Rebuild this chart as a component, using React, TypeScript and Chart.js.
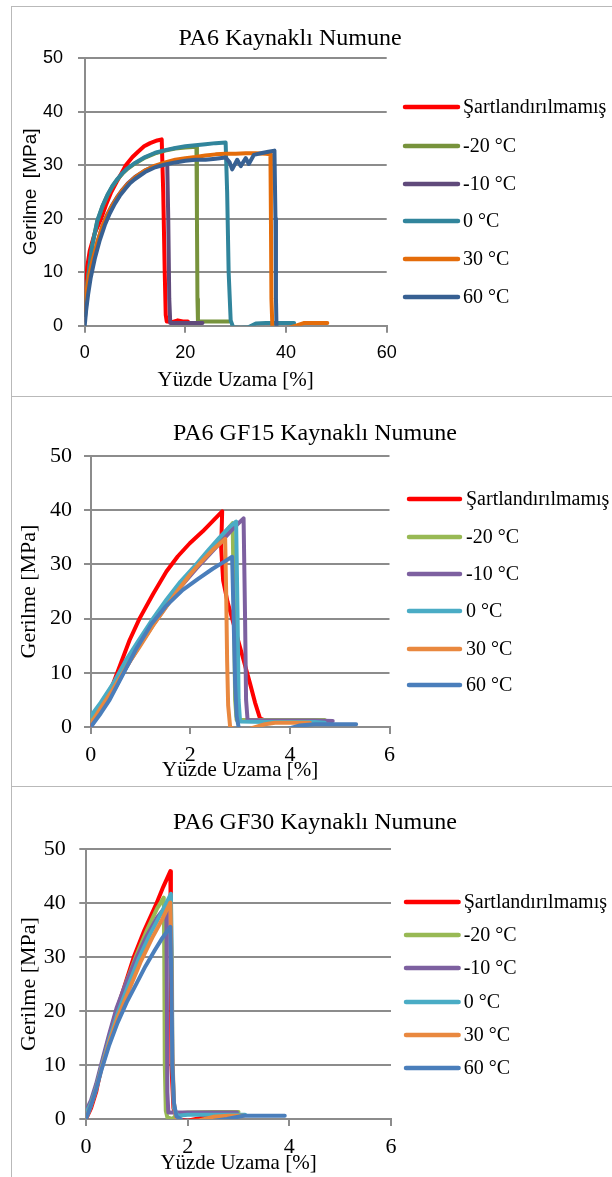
import React, { useEffect, useRef } from "react";
import { Chart, registerables } from "chart.js";
Chart.register(...registerables);

// ---------- labels ----------
const SERIES_LABELS = ["Şartlandırılmamış", "-20 °C", "-10 °C", "0 °C", "30 °C", "60 °C"];
const TITLES = ["PA6 Kaynaklı Numune", "PA6 GF15 Kaynaklı Numune", "PA6 GF30 Kaynaklı Numune"];
const X_TITLE = "Yüzde Uzama [%]";
const Y_TITLES = ["Gerilme  [MPa]", "Gerilme [MPa]", "Gerilme [MPa]"];
const Y_TICKS = [0, 10, 20, 30, 40, 50];
const X_TICKS_P1 = [0, 20, 40, 60];
const X_TICKS_P23 = [0, 2, 4, 6];

// ---------- Panel 1: PA6 ----------
const p1RedX = [0, 0.2, 0.5, 1, 2, 3.3, 4.2, 5.2, 6.3, 7.2, 8.2, 9.5, 10.6, 11.8, 13, 14.4, 15.3, 15.6, 15.9, 16.1, 16.3, 17.5, 18.5, 19.5, 20.5];
const p1RedY = [2, 7, 11, 14, 17.3, 20.1, 22.5, 24.8, 26.8, 28.3, 30, 31.5, 32.5, 33.5, 34.1, 34.6, 34.8, 25, 10, 2, 0.8, 0.7, 1, 0.8, 0.8];
const p1GreenX = [0, 0.3, 0.8, 1.5, 2.5, 3.5, 4.5, 5.5, 6.5, 7.5, 8.5, 10, 12, 14, 16, 18, 20, 22.2, 22.3, 22.4, 22.5, 24, 26, 28.7];
const p1GreenY = [2, 6, 10, 15, 19.5, 22.2, 24.3, 26, 27.3, 28.4, 29.3, 30.3, 31.4, 32.2, 32.7, 33.1, 33.3, 33.4, 20, 5, 0.8, 0.8, 0.8, 0.8];
const p1PurpleX = [0, 0.3, 0.8, 1.5, 2.5, 3.5, 4.5, 5.5, 6.5, 7.5, 8.5, 10, 12, 14, 16.4, 16.6, 16.8, 17, 19, 21, 23.4];
const p1PurpleY = [1, 4, 8, 11.5, 15.5, 18.5, 20.8, 22.6, 24.1, 25.4, 26.5, 27.8, 29, 29.8, 30.3, 20, 5, 0.5, 0.5, 0.5, 0.5];
const p1TealX = [0, 0.3, 0.8, 1.5, 2.5, 3.5, 4.5, 5.5, 6.5, 7.5, 8.5, 10, 12, 14, 16, 18, 20, 22, 24, 26, 28, 28.3, 28.6, 29, 29.5, 31, 32.5, 34, 36, 38, 40, 41.6];
const p1TealY = [2, 6, 10, 15, 19.6, 22.3, 24.4, 26.1, 27.4, 28.5, 29.4, 30.4, 31.5, 32.3, 32.8, 33.2, 33.5, 33.7, 33.9, 34.1, 34.2, 25, 10, 1, -0.3, -0.4, -0.3, 0.4, 0.5, 0.5, 0.5, 0.5];
const p1OrangeX = [0, 0.3, 0.8, 1.5, 2.5, 3.5, 4.5, 5.5, 6.5, 7.5, 8.5, 10, 12, 14, 16, 18, 20, 22, 24, 26, 28, 30, 32, 34, 36, 36.9, 37, 37.1, 37.3, 38.5, 40.5, 42, 43.5, 46, 48.2];
const p1OrangeY = [3, 6, 9, 12, 15.5, 18.5, 20.7, 22.5, 24, 25.3, 26.4, 27.7, 29, 29.9, 30.5, 31, 31.3, 31.5, 31.8, 32, 32.1, 32.1, 32.2, 32.2, 32.1, 32, 20, 5, -0.5, -0.5, -0.4, 0, 0.5, 0.5, 0.5];
const p1BlueX = [0, 0.3, 0.7, 1.2, 2, 3, 4, 5, 6, 7, 8, 9, 10, 12, 14, 16, 18, 20, 22, 24, 26, 28, 28.8, 29.3, 30.3, 31, 32, 32.6, 33.6, 35, 36.5, 37.7, 37.9, 38, 38.1];
const p1BlueY = [0, 3, 6, 9, 12.5, 16, 18.8, 21, 22.8, 24.3, 25.5, 26.6, 27.4, 28.7, 29.6, 30.1, 30.5, 30.8, 31, 31, 31.2, 31.4, 30.5, 29.2, 31, 29.8, 31.3, 30.2, 31.9, 32.2, 32.5, 32.7, 20, 5, 0];

// ---------- Panel 2: PA6 GF15 ----------
const p2RedX = [0, 0.2, 0.45, 0.78, 0.98, 1.25, 1.52, 1.75, 1.99, 2.25, 2.45, 2.64, 2.62, 2.66, 2.75, 2.9, 3.05, 3.2, 3.3, 3.4, 3.5, 4, 4.5];
const p2RedY = [0, 3.5, 8, 16, 20, 24.5, 28.7, 31.5, 33.9, 36.1, 38, 39.8, 33, 27, 23, 18, 13, 8, 4.5, 1.6, 1.2, 1.2, 1.2];
const p2GreenX = [0, 0.2, 0.45, 0.7, 0.98, 1.25, 1.52, 1.8, 2.12, 2.35, 2.59, 2.75, 2.85, 2.88, 2.9, 2.93, 3.5, 4, 4.7];
const p2GreenY = [1, 4, 7.5, 11.8, 15.8, 19.6, 23.1, 26.5, 29.8, 32.2, 34.8, 36.5, 37.6, 20, 5, 1.3, 1.3, 1.3, 1.3];
const p2PurpleX = [0, 0.2, 0.45, 0.7, 0.98, 1.25, 1.52, 1.8, 2.12, 2.4, 2.7, 2.9, 3.07, 3.1, 3.12, 3.15, 3.5, 4, 4.5, 4.86];
const p2PurpleY = [0, 3, 6.5, 10.8, 15, 18.8, 22.3, 25.8, 29.2, 32, 35, 37, 38.5, 20, 5, 1.3, 1.2, 1.2, 1.2, 1.1];
const p2TealX = [0, 0.2, 0.45, 0.7, 0.98, 1.25, 1.52, 1.8, 2.12, 2.35, 2.59, 2.8, 2.92, 2.95, 2.97, 3.0, 3.5, 4, 4.5, 4.7];
const p2TealY = [2, 4.5, 8, 12.2, 16.2, 20, 23.5, 26.8, 30, 32.5, 35, 37, 37.9, 20, 5, 1, 0.9, 0.9, 0.9, 0.8];
const p2OrangeX = [0, 0.2, 0.45, 0.78, 0.98, 1.25, 1.52, 1.75, 1.99, 2.2, 2.45, 2.6, 2.7, 2.72, 2.74, 2.76, 2.8, 2.9, 3.2, 3.5, 3.7, 4, 4.4];
const p2OrangeY = [0.5, 3.5, 7, 12, 14.8, 18.7, 22.2, 25.2, 28.1, 30.3, 32.7, 33.9, 34.7, 25, 12, 4, 0, -0.5, -0.3, 0.5, 0.8, 0.8, 0.8];
const p2BlueX = [0, 0.2, 0.38, 0.58, 0.92, 1.22, 1.5, 1.85, 2.15, 2.45, 2.7, 2.84, 2.87, 2.9, 2.93, 2.98, 3.5, 3.9, 4.2, 4.5, 5, 5.33];
const p2BlueY = [0, 2.5, 5, 8.5, 14.5, 19, 22.2, 25.3, 27.3, 29.2, 30.6, 31.4, 20, 8, 2, -0.5, -1, -0.5, 0.3, 0.5, 0.5, 0.5];

// ---------- Panel 3: PA6 GF30 ----------
const p3RedX = [0, 0.1, 0.2, 0.31, 0.45, 0.6, 0.77, 0.94, 1.15, 1.39, 1.52, 1.66, 1.67, 1.68, 1.72, 1.8, 2, 2.3, 2.6, 3];
const p3RedY = [0, 2, 5, 10, 15, 20, 25, 30, 35, 40, 43, 45.9, 30, 10, 2, 0, -0.3, 0.3, 0.7, 0.8];
const p3GreenX = [0, 0.1, 0.2, 0.31, 0.45, 0.6, 0.8, 1, 1.2, 1.4, 1.53, 1.54, 1.55, 1.57, 1.6, 1.7, 1.8, 2, 2.5, 3];
const p3GreenY = [1, 3, 6, 10, 15, 20, 25.5, 30.5, 35, 39, 41, 30, 10, 1.5, 0.3, 0, 1, 1.2, 1.3, 1.3];
const p3PurpleX = [0, 0.1, 0.2, 0.31, 0.45, 0.6, 0.8, 1, 1.2, 1.4, 1.58, 1.59, 1.6, 1.62, 2, 2.5, 2.97];
const p3PurpleY = [1.5, 3.5, 6.5, 10.5, 15.5, 20.5, 25.5, 30, 34, 37.3, 39.5, 25, 5, 1.2, 1.2, 1.2, 1.2];
const p3TealX = [0, 0.1, 0.2, 0.31, 0.45, 0.62, 0.82, 1.03, 1.25, 1.5, 1.67, 1.69, 1.7, 1.73, 1.8, 2, 2.5, 3.13];
const p3TealY = [1, 3, 5.8, 9.8, 14.5, 19.5, 24.5, 29.5, 34, 38.5, 41.7, 30, 10, 2, 0.6, 0.8, 0.8, 0.8];
const p3OrangeX = [0, 0.1, 0.2, 0.31, 0.45, 0.63, 0.85, 1.07, 1.3, 1.5, 1.66, 1.68, 1.7, 1.73, 1.78, 1.9, 2.2, 2.5, 2.8, 3.1];
const p3OrangeY = [0, 2.5, 5.5, 9.5, 14, 19, 24, 29, 33.5, 37, 40.1, 30, 12, 3, 0, -0.4, -0.3, 0.4, 0.6, 0.6];
const p3BlueX = [0, 0.1, 0.2, 0.31, 0.45, 0.62, 0.8, 1, 1.17, 1.35, 1.5, 1.66, 1.68, 1.7, 1.73, 1.78, 1.9, 2.4, 2.77, 3.1, 3.5, 3.91];
const p3BlueY = [0, 2.5, 5.5, 9.3, 13.5, 17.8, 21.6, 25.2, 28.3, 31.2, 33.5, 35.6, 25, 10, 3, 0.5, -0.3, -0.5, 0, 0.6, 0.6, 0.6];

// ---------- colours ----------
const COLORS_P1 = ["#FF0000", "#77933C", "#604A7B", "#31859C", "#E46C0A", "#376092"];
const COLORS_P23 = ["#FF0000", "#98B954", "#7D60A0", "#4AACC5", "#E9883F", "#4A7EBB"];

const SERIES_P1: [number[], number[]][] = [
  [p1RedX, p1RedY], [p1GreenX, p1GreenY], [p1PurpleX, p1PurpleY],
  [p1TealX, p1TealY], [p1OrangeX, p1OrangeY], [p1BlueX, p1BlueY],
];
const SERIES_P2: [number[], number[]][] = [
  [p2RedX, p2RedY], [p2GreenX, p2GreenY], [p2PurpleX, p2PurpleY],
  [p2TealX, p2TealY], [p2OrangeX, p2OrangeY], [p2BlueX, p2BlueY],
];
const SERIES_P3: [number[], number[]][] = [
  [p3RedX, p3RedY], [p3GreenX, p3GreenY], [p3PurpleX, p3PurpleY],
  [p3TealX, p3TealY], [p3OrangeX, p3OrangeY], [p3BlueX, p3BlueY],
];

const SERIF = "'Liberation Serif', 'Times New Roman', serif";
const SANS = "'Liberation Sans', Arial, sans-serif";
const GRID = "#8c8c8c";

type Layout = {
  top: number; height: number;
  area: { left: number; right: number; top: number; bottom: number };
  xMax: number; xStep: number; xTicks: number[];
  tickFamily: string; tickSize: number;
  yTickPad: number; xTickPad: number;
  yTitleFamily: string; yTitleSize: number; yTitleCX: number;
  xTitleSize: number; xTitleCY: number;
  titleX: number; titleBase: number;
  legX1: number; legX2: number; legTX: number; legYs: number[];
};

const LAYOUTS: Layout[] = [
  {
    top: 0, height: 397, area: { left: 84.7, right: 386.7, top: 58, bottom: 325.7 },
    xMax: 60, xStep: 20, xTicks: X_TICKS_P1, tickFamily: SANS, tickSize: 18, yTickPad: 15, xTickPad: 9.5,
    yTitleFamily: SANS, yTitleSize: 19, yTitleCX: 31, xTitleSize: 21, xTitleCY: 380,
    titleX: 290, titleBase: 45, legX1: 405, legX2: 458, legTX: 463, legYs: [107, 146, 184, 221, 259, 297],
  },
  {
    top: 397, height: 390, area: { left: 90.7, right: 389.5, top: 59, bottom: 330 },
    xMax: 6, xStep: 2, xTicks: X_TICKS_P23, tickFamily: SERIF, tickSize: 22, yTickPad: 12, xTickPad: 7.8,
    yTitleFamily: SERIF, yTitleSize: 22, yTitleCX: 29, xTitleSize: 21, xTitleCY: 373,
    titleX: 315, titleBase: 43, legX1: 409, legX2: 460, legTX: 466, legYs: [102, 140, 177, 214, 252, 288],
  },
  {
    top: 787, height: 390, area: { left: 86, right: 391, top: 62, bottom: 332 },
    xMax: 6, xStep: 2, xTicks: X_TICKS_P23, tickFamily: SERIF, tickSize: 22, yTickPad: 13.6, xTickPad: 7.8,
    yTitleFamily: SERIF, yTitleSize: 22, yTitleCX: 29, xTitleSize: 21, xTitleCY: 376,
    titleX: 315, titleBase: 42, legX1: 406, legX2: 458.6, legTX: 463.7, legYs: [115, 148, 181, 215, 248, 281],
  },
];

const PANEL_SERIES = [SERIES_P1, SERIES_P2, SERIES_P3];
const PANEL_COLORS = [COLORS_P1, COLORS_P23, COLORS_P23];

const decorPlugin = {
  id: "decor",
  afterDraw(chart: any, _args: any, opts: any) {
    const ctx = chart.ctx;
    ctx.save();
    ctx.fillStyle = "#000";
    ctx.font = `24px ${SERIF}`;
    ctx.textAlign = "center";
    ctx.textBaseline = "alphabetic";
    ctx.fillText(opts.title, opts.titleX, opts.titleBase);
    chart.data.datasets.forEach((ds: any, i: number) => {
      const y = opts.legYs[i];
      ctx.strokeStyle = ds.borderColor;
      ctx.lineWidth = 4.5;
      ctx.lineCap = "round";
      ctx.beginPath();
      ctx.moveTo(opts.legX1, y);
      ctx.lineTo(opts.legX2, y);
      ctx.stroke();
      ctx.fillStyle = "#000";
      ctx.font = `20px ${SERIF}`;
      ctx.textAlign = "left";
      ctx.textBaseline = "middle";
      ctx.fillText(ds.label, opts.legTX, y + 1);
    });
    ctx.restore();
  },
};

function makeChart(canvas: HTMLCanvasElement, idx: number) {
  const L = LAYOUTS[idx];
  const series = PANEL_SERIES[idx];
  const colors = PANEL_COLORS[idx];
  const yTitleLH = L.yTitleSize * 1.2;
  const padLeft = L.yTitleCX - yTitleLH / 2;
  const yWidth = L.area.left - padLeft;
  const xTitleLH = L.xTitleSize * 1.2;
  const xBottom = L.xTitleCY + xTitleLH / 2;
  const xHeight = xBottom - L.area.bottom;
  const padBottom = L.height - xBottom;

  const datasets = series.map(([xs, ys], i) => ({
    label: SERIES_LABELS[i],
    data: xs.map((x, k) => ({ x, y: ys[k] })),
    borderColor: colors[i],
    backgroundColor: colors[i],
    borderWidth: 4,
    pointRadius: 0,
    pointHoverRadius: 0,
    showLine: true,
    fill: false,
    tension: 0,
    borderJoinStyle: "round" as const,
    borderCapStyle: "round" as const,
    order: series.length - i,
  }));

  return new Chart(canvas, {
    type: "scatter",
    data: { datasets },
    plugins: [decorPlugin],
    options: {
      animation: false,
      responsive: false,
      maintainAspectRatio: false,
      devicePixelRatio: 1,
      events: [],
      layout: {
        padding: { left: padLeft, top: L.area.top, right: 612 - L.area.right, bottom: padBottom },
      },
      plugins: {
        legend: { display: false },
        title: { display: false },
        tooltip: { enabled: false },
        decor: {
          title: TITLES[idx], titleX: L.titleX, titleBase: L.titleBase,
          legX1: L.legX1, legX2: L.legX2, legTX: L.legTX, legYs: L.legYs,
        },
      } as any,
      scales: {
        x: {
          type: "linear",
          position: "bottom",
          min: 0,
          max: L.xMax,
          afterBuildTicks: (scale: any) => {
            scale.ticks = L.xTicks.map((v) => ({ value: v }));
          },
          afterFit: (scale: any) => {
            scale.height = xHeight;
          },
          ticks: {
            stepSize: L.xStep,
            color: "#000",
            padding: L.xTickPad,
            maxRotation: 0,
            font: { family: L.tickFamily, size: L.tickSize },
          },
          grid: { drawOnChartArea: false, drawTicks: true, tickLength: 7, color: GRID, lineWidth: 2 },
          border: { display: true, color: GRID, width: 2 },
          title: {
            display: true,
            text: X_TITLE,
            color: "#000",
            padding: 0,
            font: { family: SERIF, size: L.xTitleSize },
          },
        },
        y: {
          type: "linear",
          position: "left",
          min: 0,
          max: 50,
          afterBuildTicks: (scale: any) => {
            scale.ticks = Y_TICKS.map((v) => ({ value: v }));
          },
          afterFit: (scale: any) => {
            scale.width = yWidth;
          },
          ticks: {
            stepSize: 10,
            color: "#000",
            padding: L.yTickPad,
            font: { family: L.tickFamily, size: L.tickSize },
          },
          grid: { drawOnChartArea: true, drawTicks: true, tickLength: 6.7, color: GRID, lineWidth: 2 },
          border: { display: true, color: GRID, width: 2 },
          title: {
            display: true,
            text: Y_TITLES[idx],
            color: "#000",
            padding: 0,
            font: { family: L.yTitleFamily, size: L.yTitleSize },
          },
        },
      },
    } as any,
  });
}

export default function App() {
  const c1 = useRef<HTMLCanvasElement>(null);
  const c2 = useRef<HTMLCanvasElement>(null);
  const c3 = useRef<HTMLCanvasElement>(null);

  useEffect(() => {
    const refs = [c1, c2, c3];
    const charts = refs.map((r, i) => makeChart(r.current as HTMLCanvasElement, i));
    return () => charts.forEach((c) => c.destroy());
  }, []);

  const borderStyle = "1px solid #b9b9b9";
  const panelBoxes = [
    { top: 6, height: 391 },
    { top: 396, height: 391 },
    { top: 786, height: 500 },
  ];
  const refs = [c1, c2, c3];

  return (
    <div
      style={{
        position: "absolute",
        left: 0,
        top: 0,
        width: 612,
        height: 1177,
        overflow: "hidden",
        background: "#fff",
      }}
    >
      {panelBoxes.map((b, i) => (
        <div
          key={"b" + i}
          style={{
            position: "absolute",
            left: 11,
            top: b.top,
            width: 700,
            height: b.height,
            border: borderStyle,
            boxSizing: "border-box",
          }}
        />
      ))}
      {LAYOUTS.map((L, i) => (
        <canvas
          key={"c" + i}
          ref={refs[i]}
          width={612}
          height={L.height}
          style={{ position: "absolute", left: 0, top: L.top, width: 612, height: L.height, display: "block" }}
        />
      ))}
    </div>
  );
}
